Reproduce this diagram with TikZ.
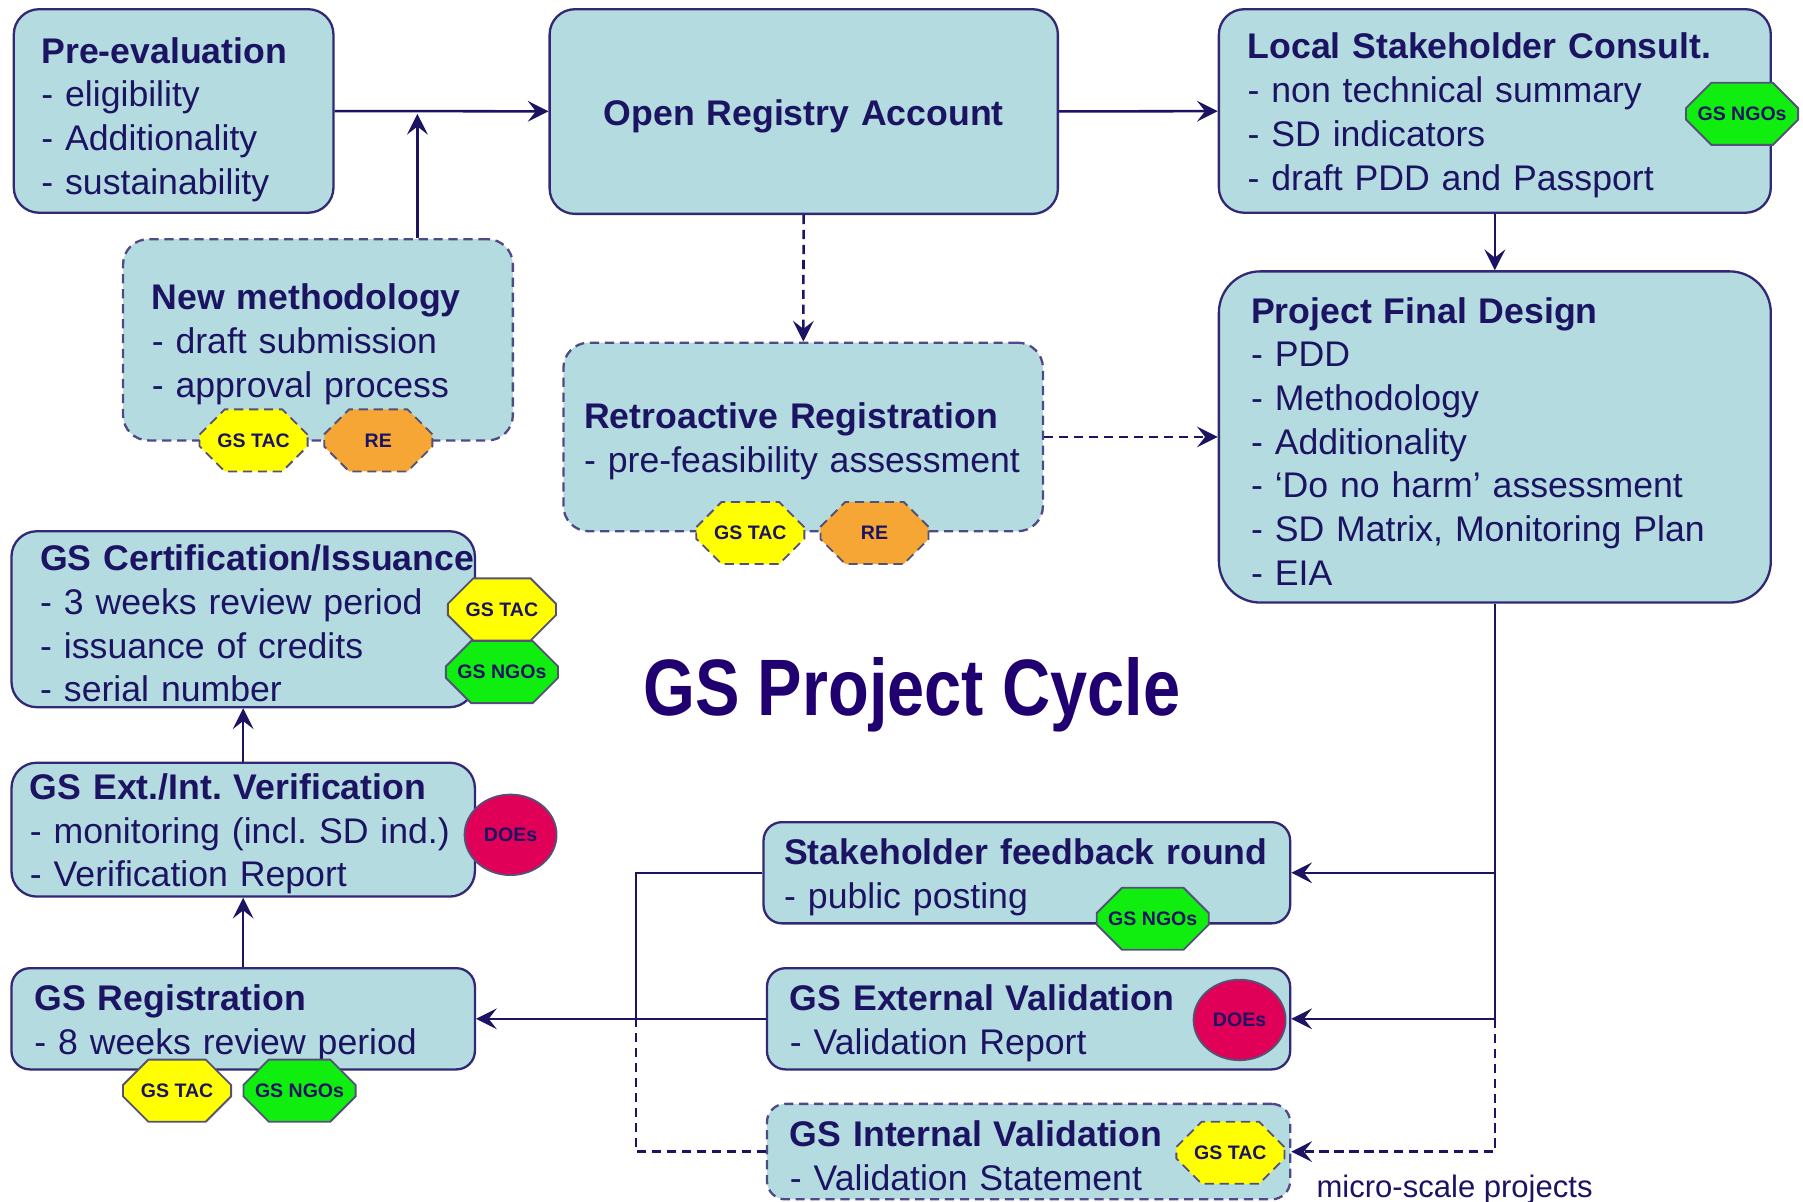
\documentclass[tikz,border=0pt]{standalone}
\usepackage{fontspec}
\setmainfont{Liberation Sans}
\usetikzlibrary{positioning, calc, arrows.meta, shapes.misc, shapes.geometric}

\definecolor{boxfill}{RGB}{180,220,224}
\definecolor{boxline}{RGB}{50,40,115}
\definecolor{ink}{RGB}{28,20,98}
\definecolor{titleink}{RGB}{32,0,112}
\definecolor{tacyellow}{RGB}{255,255,0}
\definecolor{reorange}{RGB}{245,166,52}
\definecolor{ngogreen}{RGB}{16,238,16}
\definecolor{doered}{RGB}{224,0,88}
\definecolor{badgeline}{RGB}{85,80,120}

\begin{document}
\begin{tikzpicture}[x=0.5pt, y=-0.5pt,
lift/.style={execute at begin node={\rule{0pt}{#1}}},
stage/.style={rectangle, rounded corners=11pt, draw=boxline, line width=1pt, fill=boxfill, text=ink, align=left, inner xsep=10pt, inner ysep=1pt, font=\fontsize{15.5pt}{19pt}\selectfont\frenchspacing, lift=15pt},
optional/.style={stage, dash pattern=on 4pt off 2.5pt, draw=boxline!85},
badge/.style={chamfered rectangle, chamfered rectangle sep=7pt, draw=badgeline, line width=0.8pt, minimum width=47pt, minimum height=27pt, inner sep=1pt, text=ink, font=\fontsize{8.5pt}{10pt}\selectfont\bfseries},
doe/.style={ellipse, draw=badgeline, line width=0.8pt, fill=doered, minimum width=40pt, minimum height=35pt, inner sep=0pt, text=ink, font=\fontsize{8.5pt}{10pt}\selectfont\bfseries},
flow/.style={draw=ink, line width=1.1pt, -{Stealth[length=9pt, width=9pt, inset=3.5pt]}},
link/.style={draw=ink, line width=1.1pt},
dashes/.style={dash pattern=on 4pt off 2.5pt}]

\path[use as bounding box, fill=white] (0,0) rectangle (1568,1045);

% stages
\node (pre) [stage, lift=18.5pt, inner xsep=12pt, text width=115pt, minimum height=88.5pt] at (151,96.5) {\textbf{Pre-evaluation}\\- eligibility\\- Additionality\\- sustainability};
\node (open) [stage, align=center, text width=201pt, minimum height=89pt] at (699,97) {\textbf{Open Registry Account}};
\node (local) [stage, inner xsep=12.5pt, text width=215pt, minimum height=88.5pt] at (1300,96.5) {\textbf{Local Stakeholder Consult.}\\- non technical summary\\- SD indicators\\- draft PDD and Passport};
\node (newmeth) [optional, inner xsep=12.5pt, text width=144.5pt, minimum height=87.5pt] at (276.5,295.5) {\textbf{New methodology}\\- draft submission\\- approval process};
\node (retro) [optional, inner xsep=9pt, text width=190.5pt, minimum height=82pt] at (698.5,380) {\textbf{Retroactive Registration}\\- pre-feasibility assessment};
\node (design) [stage, rounded corners=18pt, inner xsep=14pt, text width=212pt, minimum height=144pt] at (1300,380) {\textbf{Project Final Design}\\- PDD\\- Methodology\\- Additionality\\- ‘Do no harm’ assessment\\- SD Matrix, Monitoring Plan\\- EIA};
\node (cert) [stage, inner xsep=12.5pt, text width=176.5pt, minimum height=76.5pt] at (211.5,538.5) {\rlap{\textbf{GS Certification/Issuance}}\\- 3 weeks review period\\- issuance of credits\\- serial number};
\node (verif) [stage, inner xsep=8pt, text width=185.5pt, minimum height=56.5pt] at (211.5,721.5) {\textbf{GS Ext./Int. Verification}\\- monitoring (incl. SD ind.)\\- Verification Report};
\node (reg) [stage, rounded corners=8pt, text width=181.5pt, minimum height=44pt] at (211.5,886) {\textbf{GS Registration}\\- 8 weeks review period};
\node (feedback) [stage, rounded corners=8pt, inner xsep=9pt, text width=211pt, minimum height=44pt] at (893,759) {\textbf{Stakeholder feedback round}\\- public posting};
\node (extval) [stage, rounded corners=8pt, text width=207.5pt, minimum height=44pt] at (894.5,886) {\textbf{GS External Validation}\\- Validation Report};
\node (intval) [optional, rounded corners=8pt, text width=207.5pt, minimum height=41.5pt] at (894.5,1001.5) {\textbf{GS Internal Validation}\\- Validation Statement};

% who takes part
\node (newtac) [badge, dashes, fill=tacyellow] at (220.5,383) {GS TAC};
\node (newre) [badge, dashes, fill=reorange] at (329,383) {RE};
\node (retrotac) [badge, dashes, fill=tacyellow] at (652.5,463.5) {GS TAC};
\node (retrore) [badge, dashes, fill=reorange] at (760.5,463.5) {RE};
\node (localngo) [badge, fill=ngogreen] at (1515,99) {GS NGOs};
\node (certtac) [badge, fill=tacyellow] at (436.5,530) {GS TAC};
\node (certngo) [badge, fill=ngogreen] at (436.5,584.5) {GS NGOs};
\node (verifdoe) [doe] at (444,726) {DOEs};
\node (regtac) [badge, fill=tacyellow] at (154,948.5) {GS TAC};
\node (regngo) [badge, fill=ngogreen] at (260.5,948.5) {GS NGOs};
\node (feedngo) [badge, fill=ngogreen] at (1002.5,799) {GS NGOs};
\node (extdoe) [doe] at (1078,887) {DOEs};
\node (inttac) [badge, dashes, fill=tacyellow] at (1070,1002.5) {GS TAC};

\node (title) [anchor=base, text=titleink, font=\fontsize{29pt}{30pt}\selectfont\bfseries] at (793,622) {\scalebox{1}[1.2]{GS Project Cycle}};
\node (micro) [anchor=base, text=ink, font=\fontsize{13.5pt}{15pt}\selectfont] at (1265,1041) {micro-scale projects};

\coordinate (join) at (363,99);
\coordinate (merge) at (553,886);

\path (pre) edge[flow] (open);
\path (newmeth.north -| join) edge[flow] (join);
\path (open) edge[flow] (local);
\path (open) edge[flow, dashes] (retro);
\path (retro) edge[flow, dashes] (design);
\path (local) edge[flow] (design);

\draw[link] (design.south) -- (design.south |- extval.east) coordinate (split);
\path (design.south |- feedback.east) edge[flow] (feedback.east);
\path (split) edge[flow] (extval.east);
\draw[flow, dashes] (split) |- (intval.east);

\draw[link] (feedback.west) -| (merge);
\draw[link, dashes] (intval.west) -| (merge);
\path (extval.west) edge[flow] (reg.east);
\path (reg) edge[flow] (verif);
\path (verif) edge[flow] (cert);

\end{tikzpicture}
\end{document}
